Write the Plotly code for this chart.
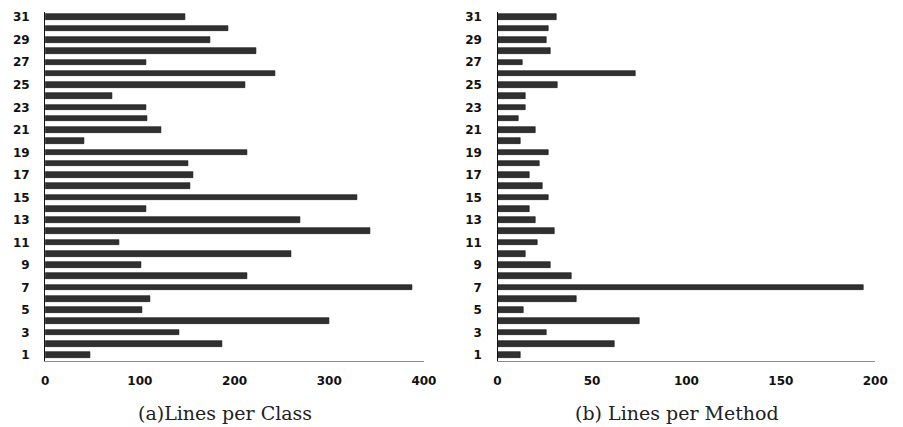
import plotly.graph_objects as go

# Source-file ids, 1..31
file_ids = list(range(1, 32))

# Lines of code per class, per file
class_lines = [48, 187, 142, 300, 102, 111, 388, 213, 101, 260, 78, 343, 269, 107, 330,
               153, 156, 151, 213, 41, 123, 108, 107, 71, 211, 243, 107, 223, 174, 193, 148]

# Lines of code per method, per file
method_lines = [12, 62, 26, 75, 14, 42, 194, 39, 28, 15, 21, 30, 20, 17, 27,
                24, 17, 22, 27, 12, 20, 11, 15, 15, 32, 73, 13, 28, 26, 27, 31]

# Tick labels
y_ticks = list(range(1, 32, 2))
class_ticks = [0, 100, 200, 300, 400]
method_ticks = [0, 50, 100, 150, 200]

captions = ["(a)Lines per Class", "(b) Lines per Method"]

W, H = 903, 427
BAR = "#303030"
TICK_FONT = dict(family="DejaVu Sans", size=12, color="#111111")

fig = go.Figure()
fig.add_trace(go.Bar(x=class_lines, y=file_ids, orientation="h", width=0.5,
                     marker=dict(color=BAR, line=dict(color="#111111", width=0.6)),
                     xaxis="x", yaxis="y", showlegend=False))
fig.add_trace(go.Bar(x=method_lines, y=file_ids, orientation="h", width=0.5,
                     marker=dict(color=BAR, line=dict(color="#111111", width=0.6)),
                     xaxis="x2", yaxis="y2", showlegend=False))

top = 1 - 11 / H
bottom = 1 - 362 / H


def xaxis(dom, ticks, rng, anchor):
    return dict(domain=dom, range=rng, tickvals=ticks, ticktext=[f"<b>{t}</b>" for t in ticks],
                tickfont=TICK_FONT, showgrid=False, zeroline=False, showline=True,
                linecolor="#8c8c8c", linewidth=1.2, ticks="", ticklabelstandoff=8,
                anchor=anchor, fixedrange=True)


def yaxis(anchor):
    return dict(domain=[bottom, top], range=[0.44, 31.47], tickvals=y_ticks,
                ticktext=[f"<b>{t}</b>" for t in y_ticks], tickfont=TICK_FONT,
                showgrid=False, zeroline=False, showline=True, linecolor="#111111",
                linewidth=1.3, ticks="", ticklabelstandoff=12, anchor=anchor,
                fixedrange=True)


fig.update_layout(
    width=W, height=H,
    margin=dict(l=0, r=0, t=0, b=0),
    paper_bgcolor="white", plot_bgcolor="white",
    bargap=0,
    xaxis=xaxis([42 / W, 428 / W], class_ticks, [0, 400], "y"),
    yaxis=yaxis("x"),
    xaxis2=xaxis([503 / W, 888 / W], method_ticks, [0, 200], "y2"),
    yaxis2=yaxis("x2"),
    annotations=[
        dict(text=captions[0], x=225 / W, y=1 - 414 / H, xref="paper", yref="paper",
             xanchor="center", yanchor="middle", showarrow=False,
             font=dict(family="DejaVu Serif", size=19, color="#222222")),
        dict(text=captions[1], x=686 / W, y=1 - 414 / H, xref="paper", yref="paper",
             xanchor="center", yanchor="middle", showarrow=False,
             font=dict(family="DejaVu Serif", size=19, color="#222222")),
    ],
)

fig.write_html("out.html", config={"displayModeBar": False})
